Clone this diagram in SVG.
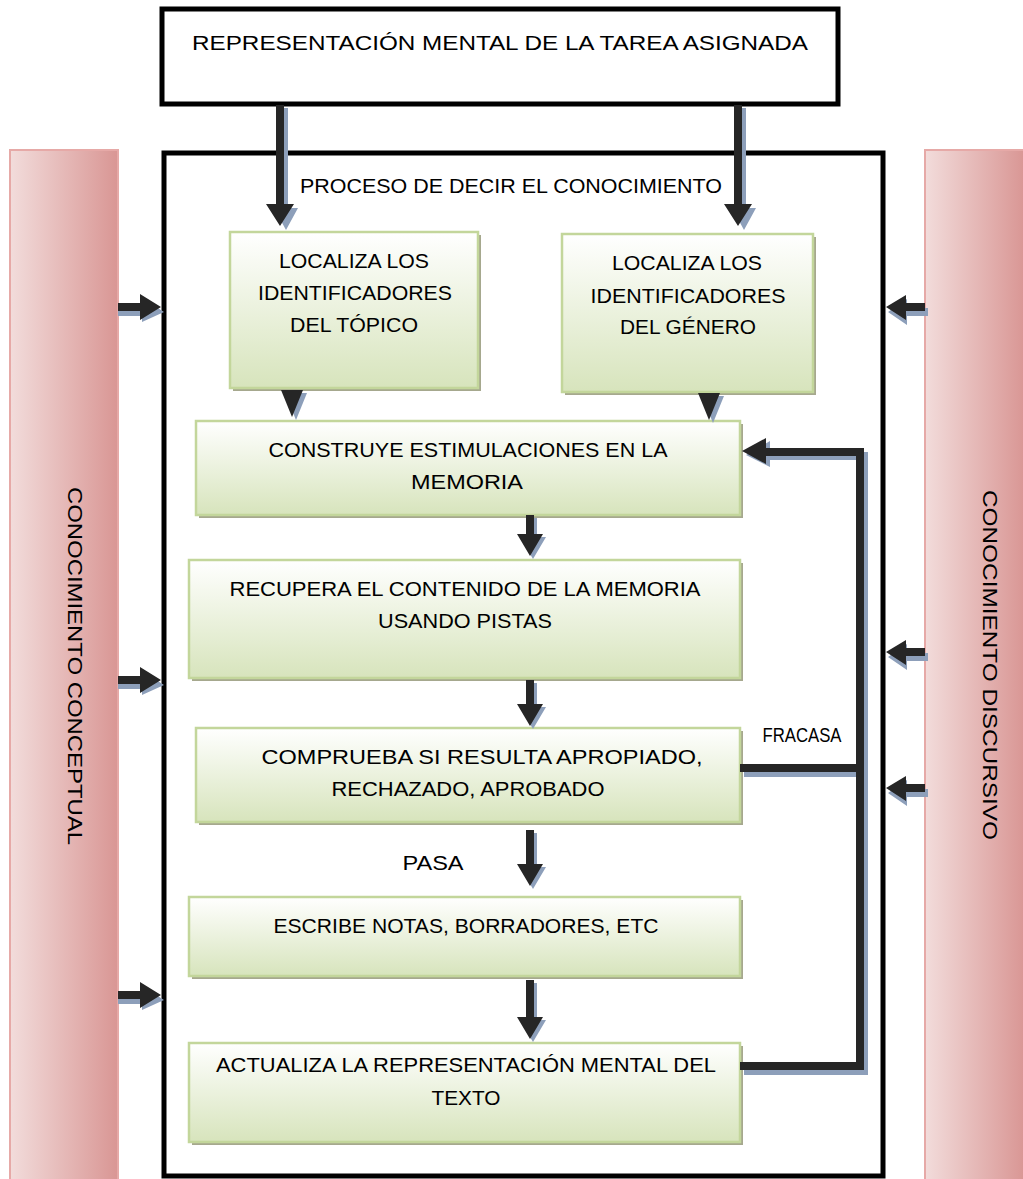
<svg xmlns="http://www.w3.org/2000/svg" width="1023" height="1179" viewBox="0 0 1023 1179">
<defs>
<linearGradient id="pink" x1="0" y1="0" x2="1" y2="0">
<stop offset="0" stop-color="#f2dcdb"/>
<stop offset="1" stop-color="#d99694"/>
</linearGradient>
<linearGradient id="green" x1="0" y1="0" x2="0" y2="1">
<stop offset="0" stop-color="#ffffff"/>
<stop offset="1" stop-color="#d7e4bc"/>
</linearGradient>
<style>
text{font-family:"Liberation Sans",Arial,sans-serif;fill:#000}
.t{font-size:21px;text-anchor:middle}
.bar{fill:url(#pink);stroke:#e6a9a7;stroke-width:2}
.box{fill:url(#green);stroke:#c3d69b;stroke-width:2.5}
.bsh{fill:#a6a88e}
.frame{fill:none;stroke:#000;stroke-width:5}
.ar{fill:#262626}
.sh{fill:#8d9fba}
.ln{fill:none;stroke:#262626;stroke-width:8}
.lnsh{fill:none;stroke:#8d9fba;stroke-width:8}
</style>
</defs>

<g id="bar-left">
<rect class="bar" x="10" y="150" width="108" height="1035"/>
<text class="t" transform="translate(75 666) rotate(90)" dominant-baseline="central" textLength="358" lengthAdjust="spacingAndGlyphs">CONOCIMIENTO CONCEPTUAL</text>
</g>
<g id="bar-right">
<rect class="bar" x="925" y="150" width="100" height="1035"/>
<text class="t" transform="translate(990 665) rotate(90)" dominant-baseline="central" textLength="350" lengthAdjust="spacingAndGlyphs">CONOCIMIENTO DISCURSIVO</text>
</g>

<g id="top">
<rect class="frame" x="162" y="9" width="676" height="95" fill="#fff"/>
<text class="t" x="500" y="50" textLength="616" lengthAdjust="spacingAndGlyphs">REPRESENTACIÓN MENTAL DE LA TAREA ASIGNADA</text>
</g>

<g id="main">
<rect class="frame" x="164" y="153" width="719" height="1023"/>
<text class="t" x="511" y="193" font-size="20" textLength="422" lengthAdjust="spacingAndGlyphs">PROCESO DE DECIR EL CONOCIMIENTO</text>
</g>

<g id="n1">
<rect class="bsh" x="233" y="235" width="248" height="156"/>
<rect class="box" x="230" y="232" width="248" height="156"/>
<text class="t" x="354" y="268" textLength="150" lengthAdjust="spacingAndGlyphs">LOCALIZA LOS</text>
<text class="t" x="355" y="300" textLength="194" lengthAdjust="spacingAndGlyphs">IDENTIFICADORES</text>
<text class="t" x="354" y="332" textLength="128" lengthAdjust="spacingAndGlyphs">DEL TÓPICO</text>
</g>
<g id="n2">
<rect class="bsh" x="565" y="237" width="251" height="158"/>
<rect class="box" x="562" y="234" width="251" height="158"/>
<text class="t" x="687" y="270" textLength="150" lengthAdjust="spacingAndGlyphs">LOCALIZA LOS</text>
<text class="t" x="688" y="303" textLength="195" lengthAdjust="spacingAndGlyphs">IDENTIFICADORES</text>
<text class="t" x="688" y="334" textLength="136" lengthAdjust="spacingAndGlyphs">DEL GÉNERO</text>
</g>
<g id="n3">
<rect class="bsh" x="199" y="424" width="544" height="94"/>
<rect class="box" x="196" y="421" width="544" height="94"/>
<text class="t" x="468" y="457" textLength="399" lengthAdjust="spacingAndGlyphs">CONSTRUYE ESTIMULACIONES EN LA</text>
<text class="t" x="467" y="489" textLength="112" lengthAdjust="spacingAndGlyphs">MEMORIA</text>
</g>
<g id="n4">
<rect class="bsh" x="192" y="563" width="551" height="118"/>
<rect class="box" x="189" y="560" width="551" height="118"/>
<text class="t" x="465" y="596" textLength="471" lengthAdjust="spacingAndGlyphs">RECUPERA EL CONTENIDO DE LA MEMORIA</text>
<text class="t" x="465" y="628" textLength="174" lengthAdjust="spacingAndGlyphs">USANDO PISTAS</text>
</g>
<g id="n5">
<rect class="bsh" x="199" y="731" width="544" height="94"/>
<rect class="box" x="196" y="728" width="544" height="94"/>
<text class="t" x="482" y="764" textLength="441" lengthAdjust="spacingAndGlyphs">COMPRUEBA SI RESULTA APROPIADO,</text>
<text class="t" x="468" y="796" textLength="273" lengthAdjust="spacingAndGlyphs">RECHAZADO, APROBADO</text>
</g>
<g id="n6">
<rect class="bsh" x="192" y="900" width="551" height="79"/>
<rect class="box" x="189" y="897" width="551" height="79"/>
<text class="t" x="466" y="933" textLength="385" lengthAdjust="spacingAndGlyphs">ESCRIBE NOTAS, BORRADORES, ETC</text>
</g>
<g id="n7">
<rect class="bsh" x="192" y="1046" width="551" height="99"/>
<rect class="box" x="189" y="1043" width="551" height="99"/>
<text class="t" x="466" y="1072" textLength="500" lengthAdjust="spacingAndGlyphs">ACTUALIZA LA REPRESENTACIÓN MENTAL DEL</text>
<text class="t" x="466" y="1105" textLength="69" lengthAdjust="spacingAndGlyphs">TEXTO</text>
</g>

<g id="labels">
<text class="t" x="433" y="870" textLength="61" lengthAdjust="spacingAndGlyphs">PASA</text>
<text class="t" x="802" y="742" font-size="15" textLength="79" lengthAdjust="spacingAndGlyphs">FRACASA</text>
</g>

<g id="connectors">
<!-- top arrows -->
<polygon class="sh" points="280,108 288,108 288,208 298,208 286,230 274,208 280,208"/>
<polygon class="ar" points="276,105 284,105 284,204 294,204 280,226 266,204 276,204"/>
<polygon class="sh" points="738,108 746,108 746,208 756,208 744,230 732,208 738,208"/>
<polygon class="ar" points="734,105 742,105 742,204 752,204 738,226 724,204 734,204"/>
<!-- small arrows to n3 -->
<polygon class="sh" points="285,393 307,393 296,420"/>
<polygon class="ar" points="281,390 303,390 292,417"/>
<polygon class="sh" points="702,396 724,396 713,423"/>
<polygon class="ar" points="698,393 720,393 709,420"/>
<!-- vertical stack arrows -->
<polygon class="sh" points="529,518 537,518 537,537 546,537 533,559 520,537 529,537"/>
<polygon class="ar" points="526,515 534,515 534,534 543,534 530,556 517,534 526,534"/>
<polygon class="sh" points="529,683 537,683 537,707 546,707 533,729 520,707 529,707"/>
<polygon class="ar" points="526,680 534,680 534,704 543,704 530,726 517,704 526,704"/>
<polygon class="sh" points="529,833 537,833 537,867 546,867 533,889 520,867 529,867"/>
<polygon class="ar" points="526,830 534,830 534,864 543,864 530,886 517,864 526,864"/>
<polygon class="sh" points="529,983 537,983 537,1020 546,1020 533,1042 520,1020 529,1020"/>
<polygon class="ar" points="526,980 534,980 534,1017 543,1017 530,1039 517,1017 526,1017"/>
<!-- left side arrows -->
<polygon class="sh" points="118,308 142,308 142,298 164,312 142,322 142,316 118,316"/>
<polygon class="ar" points="118,303 140,303 140,294 161,307 140,320 140,311 118,311"/>
<polygon class="sh" points="118,681 142,681 142,671 164,685 142,695 142,689 118,689"/>
<polygon class="ar" points="118,676 140,676 140,667 161,680 140,693 140,684 118,684"/>
<polygon class="sh" points="118,996 142,996 142,986 164,1000 142,1010 142,1004 118,1004"/>
<polygon class="ar" points="118,991 140,991 140,982 161,995 140,1008 140,999 118,999"/>
<!-- right side arrows -->
<polygon class="sh" points="928,308 907,308 907,299 888,312 907,325 907,316 928,316"/>
<polygon class="ar" points="925,303 906,303 906,295 886,307 906,320 906,311 925,311"/>
<polygon class="sh" points="928,653 907,653 907,644 888,657 907,670 907,661 928,661"/>
<polygon class="ar" points="925,648 906,648 906,640 886,652 906,665 906,656 925,656"/>
<polygon class="sh" points="928,789 907,789 907,780 888,793 907,806 907,797 928,797"/>
<polygon class="ar" points="925,784 906,784 906,776 886,788 906,801 906,792 925,792"/>
<!-- feedback loop -->
<polyline class="lnsh" points="744,1071 864,1071 864,456 768,456"/>
<line class="lnsh" x1="744" y1="773" x2="864" y2="773"/>
<polygon class="sh" points="770,441 770,467 746,455"/>
<polyline class="ln" points="740,1066 860,1066 860,452 764,452"/>
<line class="ln" x1="740" y1="768" x2="860" y2="768"/>
<polygon class="ar" points="766,438 766,464 742,451"/>
</g>
</svg>
